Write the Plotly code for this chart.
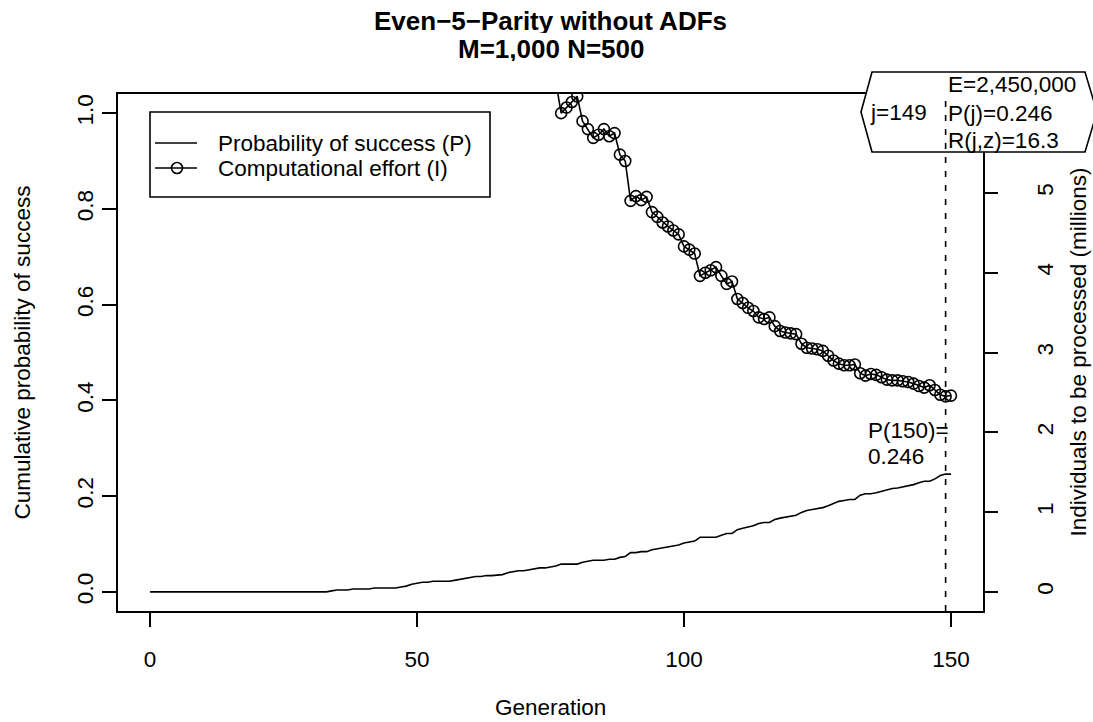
import plotly.graph_objects as go

# ---------------- data ----------------
generations = list(range(0, 151))
prob_success = [
    0.0, 0.0, 0.0, 0.0, 0.0, 0.0, 0.0, 0.0, 0.0, 0.0,
    0.0, 0.0, 0.0, 0.0, 0.0, 0.0, 0.0, 0.0, 0.0, 0.0,
    0.0, 0.0, 0.0, 0.0, 0.0, 0.0, 0.0, 0.0, 0.0, 0.0,
    0.0, 0.0, 0.0, 0.0, 0.002, 0.004, 0.004, 0.004, 0.006, 0.006,
    0.006, 0.006, 0.008, 0.008, 0.008, 0.008, 0.008, 0.010, 0.012, 0.016,
    0.018, 0.020, 0.020, 0.022, 0.022, 0.022, 0.022, 0.024, 0.026, 0.028,
    0.030, 0.032, 0.032, 0.034, 0.034, 0.035, 0.036, 0.040, 0.042, 0.044,
    0.044, 0.046, 0.048, 0.050, 0.050, 0.052, 0.054, 0.058, 0.058, 0.058,
    0.058, 0.062, 0.064, 0.066, 0.066, 0.066, 0.068, 0.068, 0.072, 0.074,
    0.082, 0.082, 0.084, 0.084, 0.088, 0.090, 0.092, 0.094, 0.096, 0.098,
    0.102, 0.104, 0.106, 0.114, 0.114, 0.114, 0.114, 0.118, 0.122, 0.122,
    0.130, 0.133, 0.136, 0.138, 0.143, 0.145, 0.145, 0.151, 0.154, 0.156,
    0.158, 0.160, 0.166, 0.170, 0.172, 0.174, 0.176, 0.180, 0.185, 0.189,
    0.191, 0.193, 0.193, 0.202, 0.205, 0.205, 0.207, 0.210, 0.214, 0.216,
    0.217, 0.219, 0.222, 0.224, 0.228, 0.231, 0.231, 0.236, 0.243, 0.246,
    0.246,
]

effort_generations = list(range(70, 151))
effort_millions = [
    7.27, 7.04, 6.83, 6.64, 6.73, 6.55, 6.39, 6.00, 6.07, 6.14,
    6.21, 5.90, 5.80, 5.69, 5.73, 5.80, 5.71, 5.75, 5.48, 5.40,
    4.90, 4.96, 4.91, 4.95, 4.76, 4.70, 4.63, 4.58, 4.53, 4.48,
    4.33, 4.29, 4.24, 3.96, 4.00, 4.03, 4.07, 3.96, 3.86, 3.89,
    3.67, 3.62, 3.56, 3.52, 3.44, 3.42, 3.44, 3.33, 3.27, 3.25,
    3.24, 3.23, 3.11, 3.06, 3.05, 3.04, 3.02, 2.96, 2.90, 2.86,
    2.84, 2.84, 2.85, 2.74, 2.71, 2.73, 2.72, 2.69, 2.66, 2.65,
    2.65, 2.64, 2.63, 2.61, 2.58, 2.56, 2.59, 2.53, 2.47, 2.45,
    2.46,
]

x_ticks = [0, 50, 100, 150]
p_ticks = [0.0, 0.2, 0.4, 0.6, 0.8, 1.0]
p_tick_text = ["0.0", "0.2", "0.4", "0.6", "0.8", "1.0"]
effort_ticks = [0, 1, 2, 3, 4, 5, 6]

best_gen = 149
title_lines = ["Even\u22125\u2212Parity without ADFs", "M=1,000 N=500"]
legend_labels = ["Probability of success (P)", "Computational effort (I)"]
box_left = "j=149"
box_right = ["E=2,450,000", "P(j)=0.246", "R(j,z)=16.3"]
final_p_label = ["P(150)=", "0.246"]

# ---------------- layout geometry ----------------
W, H = 1093, 722
L, R, T, B = 118, 983, 94, 611
FONT = "Liberation Sans, Arial, Helvetica, sans-serif"
FS = 22.5
LW = 1.6


def px(x):
    return (x - L) / (R - L)


def py(y):
    return (B - y) / (B - T)


fig = go.Figure()
fig.add_trace(go.Scatter(
    x=generations, y=prob_success, mode="lines",
    line=dict(color="black", width=LW), yaxis="y",
    showlegend=False, hoverinfo="skip"))
fig.add_trace(go.Scatter(
    x=effort_generations, y=effort_millions, mode="lines+markers",
    line=dict(color="black", width=LW),
    marker=dict(symbol="circle-open", size=11, color="black", line=dict(width=LW)),
    yaxis="y2", showlegend=False, hoverinfo="skip"))

axis_common = dict(
    showgrid=False, zeroline=False, ticks="outside", ticklen=14,
    tickwidth=LW, tickcolor="black",
    tickfont=dict(family=FONT, size=FS, color="black"),
)

fig.update_layout(
    template="none",
    width=W, height=H,
    margin=dict(l=L, r=W - R, t=T, b=H - B, pad=0),
    paper_bgcolor="white", plot_bgcolor="white",
    showlegend=False,
    xaxis=dict(range=[-6, 156], tickvals=x_ticks, showline=True, mirror=True,
               linecolor="black", linewidth=LW, ticklabelstandoff=13, **axis_common),
    yaxis=dict(range=[-0.04, 1.04], tickvals=p_ticks, ticktext=p_tick_text,
               tickangle=-90, showline=True, mirror=True, linecolor="black",
               linewidth=LW, ticklabelstandoff=0, **axis_common),
    yaxis2=dict(range=[-0.24, 6.24], tickvals=effort_ticks, overlaying="y",
                side="right", tickangle=-90, showline=False,
                ticklabelstandoff=28, **axis_common),
)

shapes = []
# legend box
shapes.append(dict(type="rect", xref="paper", yref="paper",
                   x0=px(150), x1=px(490), y0=py(197), y1=py(112),
                   line=dict(color="black", width=LW), fillcolor="white", layer="above"))
shapes.append(dict(type="line", xref="paper", yref="paper",
                   x0=px(155), x1=px(197), y0=py(143), y1=py(143),
                   line=dict(color="black", width=LW), layer="above"))
shapes.append(dict(type="line", xref="paper", yref="paper",
                   x0=px(155), x1=px(197), y0=py(168), y1=py(168),
                   line=dict(color="black", width=LW), layer="above"))
shapes.append(dict(type="circle", xref="paper", yref="paper",
                   x0=px(171.5), x1=px(182.5), y0=py(173.5), y1=py(162.5),
                   line=dict(color="black", width=LW), layer="above"))

# hexagonal info box
hx = [(872, 72), (1085, 72), (1097, 112), (1085, 152), (872, 152), (861, 112)]
path = "M " + " L ".join(f"{px(a):.5f},{py(b):.5f}" for a, b in hx) + " Z"
shapes.append(dict(type="path", xref="paper", yref="paper", path=path,
                   line=dict(color="black", width=LW), fillcolor="white", layer="above"))
# dashed line at best generation
shapes.append(dict(type="line", xref="x", yref="paper", x0=best_gen, x1=best_gen,
                   y0=0, y1=1, line=dict(color="black", width=LW, dash="6px,8px"),
                   layer="above"))
fig.update_layout(shapes=shapes)

ann = []


def text(t, x, y, size=FS, xanchor="center", angle=0, bold=False, height=None):
    a = dict(text=(f"<b>{t}</b>" if bold else t), x=px(x), y=py(y),
             xref="paper", yref="paper", xanchor=xanchor, yanchor="middle",
             showarrow=False, textangle=angle,
             font=dict(family=FONT, size=size, color="black"))
    if height is not None:
        a["height"] = height
    ann.append(a)


text(title_lines[0], 550.5, 21, size=26, bold=True, height=24)
text(title_lines[1], 550.5, 49, size=26, bold=True, height=24)
text("Generation", 550.5, 707)
text("Cumulative probability of success", 22, 352.5, angle=-90)
text("Individuals to be processed (millions)", 1078, 352.5, angle=-90)
text(legend_labels[0], 216, 143, xanchor="left")
text(legend_labels[1], 216, 168, xanchor="left")
text(box_left, 868, 112, xanchor="left")
text(box_right[0], 946, 84, xanchor="left")
text(box_right[1], 946, 113, xanchor="left")
text(box_right[2], 946, 140, xanchor="left")
text(final_p_label[0], 866, 430, xanchor="left")
text(final_p_label[1], 866, 456.5, xanchor="left")
fig.update_layout(annotations=ann)

fig.write_html("out.html")
